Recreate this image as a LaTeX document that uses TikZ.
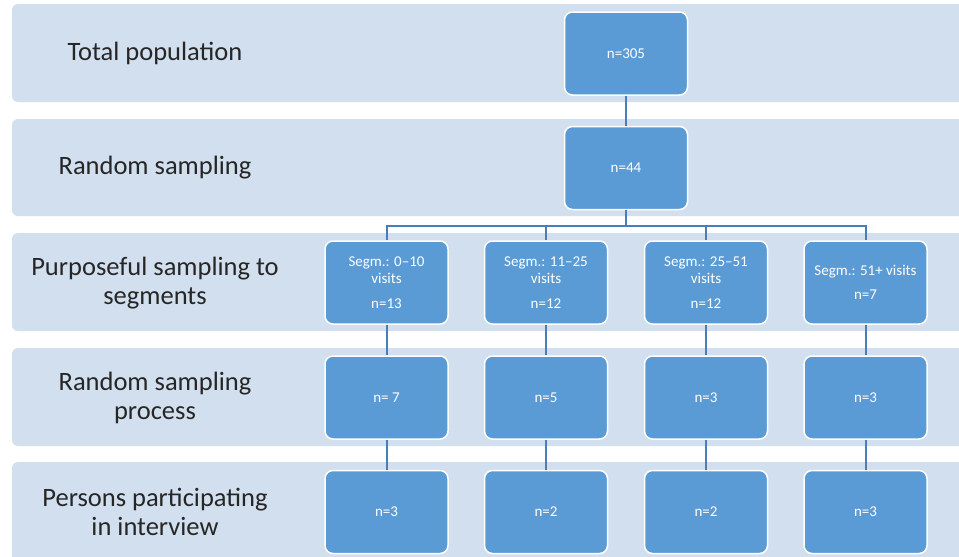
\documentclass[tikz,border=0pt]{standalone}
\usepackage{fontspec}
\setmainfont{Carlito}
\definecolor{bandfill}{HTML}{D2DFEE}
\definecolor{boxfill}{HTML}{5B9BD5}
\definecolor{linkcol}{HTML}{4A7EBB}
\definecolor{labelcol}{HTML}{262626}
\tikzset{
  band/.style={fill=bandfill, draw=none, rounded corners=6pt},
  stagebox/.style={rectangle, rounded corners=8pt, fill=boxfill, draw=white, line width=1.5pt,
    minimum width=123pt, minimum height=83pt, inner sep=2pt, align=center, text=white,
    font=\fontsize{15}{17.5}\selectfont},
  bandlabel/.style={align=center, text=labelcol, font=\fontsize{26.5}{29}\selectfont, inner sep=0pt},
  link/.style={draw=linkcol, line width=2pt}
}
\begin{document}
\begin{tikzpicture}[x=1pt,y=-1pt]
\useasboundingbox (0,0) rectangle (959,557);
\begin{scope}
\clip (0,0) rectangle (959,557);
\fill[white] (0,0) rectangle (959,557);
\path[band] (12,4) rectangle (990,102);
\path[band] (12,119) rectangle (990,216);
\path[band] (12,233) rectangle (990,331);
\path[band] (12,348) rectangle (990,446);
\path[band] (12,462) rectangle (990,570);
\end{scope}

\node[bandlabel] (l1) at (155,53) {Total population};
\node[bandlabel] (l2) at (155,168) {Random sampling};
\node[bandlabel] (l3) at (155,283) {Purposeful sampling to\\segments};
\node[bandlabel] (l4) at (155,398) {Random sampling\\process};
\node[bandlabel] (l5) at (155,512) {Persons participating\\in interview};

\node[stagebox] (top) at (626,53.5) {n=305};
\node[stagebox] (n44) at (626,168) {n=44};

\node[stagebox] (s1) at (386.5,282.5) {Segm.: 0–10\\visits\\[7pt]n=13};
\node[stagebox] (s2) at (546,282.5) {Segm.: 11–25\\visits\\[7pt]n=12};
\node[stagebox] (s3) at (706,282.5) {Segm.: 25–51\\visits\\[7pt]n=12};
\node[stagebox] (s4) at (865.5,282.5) {Segm.: 51+ visits\\[7pt]n=7};

\node[stagebox] (r1) at (386.5,397.5) {n= 7};
\node[stagebox] (r2) at (546,397.5) {n=5};
\node[stagebox] (r3) at (706,397.5) {n=3};
\node[stagebox] (r4) at (865.5,397.5) {n=3};

\node[stagebox] (p1) at (386.5,512) {n=3};
\node[stagebox] (p2) at (546,512) {n=2};
\node[stagebox] (p3) at (706,512) {n=2};
\node[stagebox] (p4) at (865.5,512) {n=3};

\draw[link] (top.south) -- (n44.north);
\foreach \s in {s1,s2,s3,s4}{
  \draw[link] (n44.south) -- ++(0,16) -| (\s.north);
}
\foreach \a/\b in {s1/r1,s2/r2,s3/r3,s4/r4,r1/p1,r2/p2,r3/p3,r4/p4}{
  \draw[link] (\a.south) -- (\b.north);
}
\end{tikzpicture}
\end{document}
